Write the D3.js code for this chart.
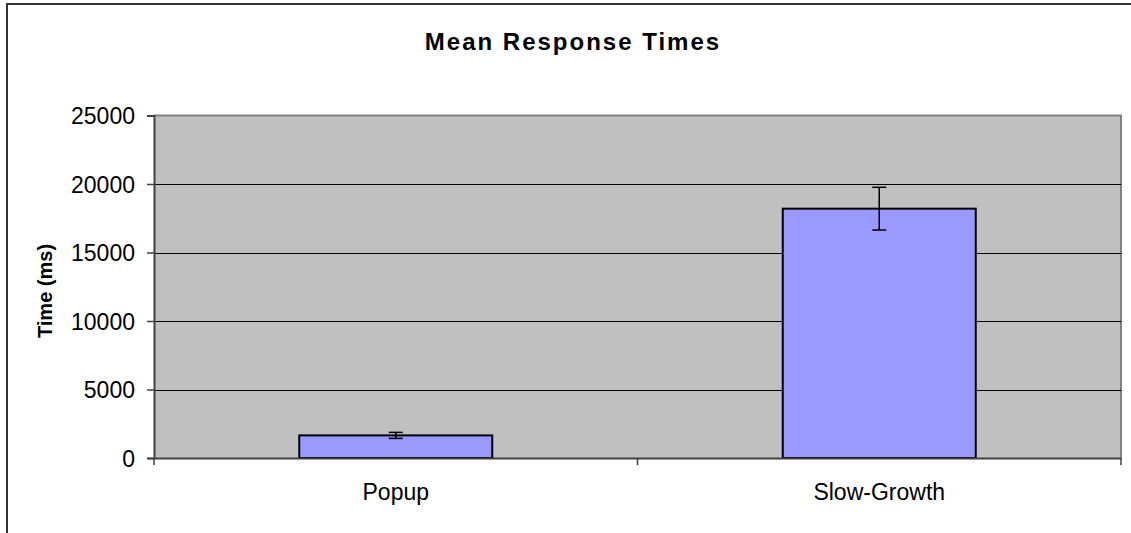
<!DOCTYPE html>
<html><head><meta charset="utf-8">
<script src="https://cdn.jsdelivr.net/npm/d3@7"></script>
<style>body{margin:0;background:#fff}svg{display:block}</style>
</head><body>
<script>
const categories = ["Popup", "Slow-Growth"];
const meanValues = [1650, 18200];
const errorValues = [220, 1560];
const yTicks = [0, 5000, 10000, 15000, 20000, 25000];
const title = "Mean Response Times";
const yLabel = "Time (ms)";

const W = 1131, H = 533;
const m = {left: 154, right: 1121, top: 115.5, bottom: 458};
const svg = d3.select("body").append("svg").attr("width", W).attr("height", H);

// outer chart border (left + top visible)
svg.append("rect").attr("x", 7).attr("y", 4).attr("width", W + 10).attr("height", H + 10)
  .attr("fill", "#fff").attr("stroke", "#333").attr("stroke-width", 2);

const x = d3.scaleBand().domain(categories).range([m.left, m.right]).paddingInner(0).paddingOuter(0);
const y = d3.scaleLinear().domain([0, 25000]).range([m.bottom, m.top]);

// plot background
svg.append("rect").attr("x", m.left).attr("y", m.top).attr("width", m.right - m.left)
  .attr("height", m.bottom - m.top).attr("fill", "#C0C0C0");
// right/top border
svg.append("path").attr("d", `M${m.left},${m.top}H${m.right}V${m.bottom}`)
  .attr("fill", "none").attr("stroke", "#808080").attr("stroke-width", 2);

// gridlines
svg.append("g").selectAll("line").data(yTicks.filter(t => t > 0 && t < 25000)).join("line")
  .attr("x1", m.left).attr("x2", m.right)
  .attr("y1", d => Math.round(y(d)) + 0.5).attr("y2", d => Math.round(y(d)) + 0.5)
  .attr("stroke", "#000").attr("stroke-width", 1);

// y axis
const yAxis = d3.axisLeft(y).tickValues(yTicks).tickSize(7).tickPadding(12).tickFormat(d3.format("d"));
const gy = svg.append("g").attr("transform", `translate(${m.left},0)`).call(yAxis);
gy.select(".domain").attr("stroke", "#404040").attr("stroke-width", 2);
gy.selectAll(".tick line").attr("stroke", "#404040").attr("stroke-width", 1.5);
gy.selectAll(".tick text").attr("font-family", "Liberation Sans, Arial, sans-serif")
  .attr("font-size", 23).attr("fill", "#000").attr("dy", "0.36em");

// bars
const bw = 193;
svg.append("g").selectAll("rect").data(categories).join("rect")
  .attr("x", d => x(d) + x.bandwidth() / 2 - bw / 2)
  .attr("y", (d, i) => y(meanValues[i]))
  .attr("width", bw)
  .attr("height", (d, i) => y(0) - y(meanValues[i]))
  .attr("fill", "#9999FF").attr("stroke", "#000").attr("stroke-width", 2);

// error bars
const eg = svg.append("g").attr("stroke", "#000").attr("stroke-width", 1.5);
categories.forEach((c, i) => {
  const cx = x(c) + x.bandwidth() / 2;
  const y1 = y(meanValues[i] + errorValues[i]), y2 = y(meanValues[i] - errorValues[i]);
  eg.append("line").attr("x1", cx).attr("x2", cx).attr("y1", y1).attr("y2", y2);
  eg.append("line").attr("x1", cx - 7).attr("x2", cx + 7).attr("y1", y1).attr("y2", y1);
  eg.append("line").attr("x1", cx - 7).attr("x2", cx + 7).attr("y1", y2).attr("y2", y2);
});

// x axis
const gx = svg.append("g").attr("transform", `translate(0,${m.bottom})`)
  .call(d3.axisBottom(x).tickSize(0).tickPadding(26));
gx.select(".domain").attr("stroke", "#404040").attr("stroke-width", 2);
gx.selectAll(".tick text").attr("font-family", "Liberation Sans, Arial, sans-serif")
  .attr("font-size", 23).attr("fill", "#000");
// category boundary ticks
const bounds = categories.map(c => x(c)).concat([x(categories[categories.length - 1]) + x.bandwidth()]);
svg.append("g").selectAll("line").data(bounds).join("line")
  .attr("x1", d => d).attr("x2", d => d).attr("y1", m.bottom).attr("y2", m.bottom + 7)
  .attr("stroke", "#404040").attr("stroke-width", 1.5);

// title
svg.append("text").attr("x", 573).attr("y", 50).attr("text-anchor", "middle")
  .attr("font-family", "Liberation Sans, Arial, sans-serif").attr("font-weight", "bold")
  .attr("font-size", 24).attr("letter-spacing", 2).text(title);

// y label
svg.append("text").attr("transform", "translate(52,291) rotate(-90)").attr("text-anchor", "middle")
  .attr("font-family", "Liberation Sans, Arial, sans-serif").attr("font-weight", "bold")
  .attr("font-size", 20).text(yLabel);
</script>
</body></html>
